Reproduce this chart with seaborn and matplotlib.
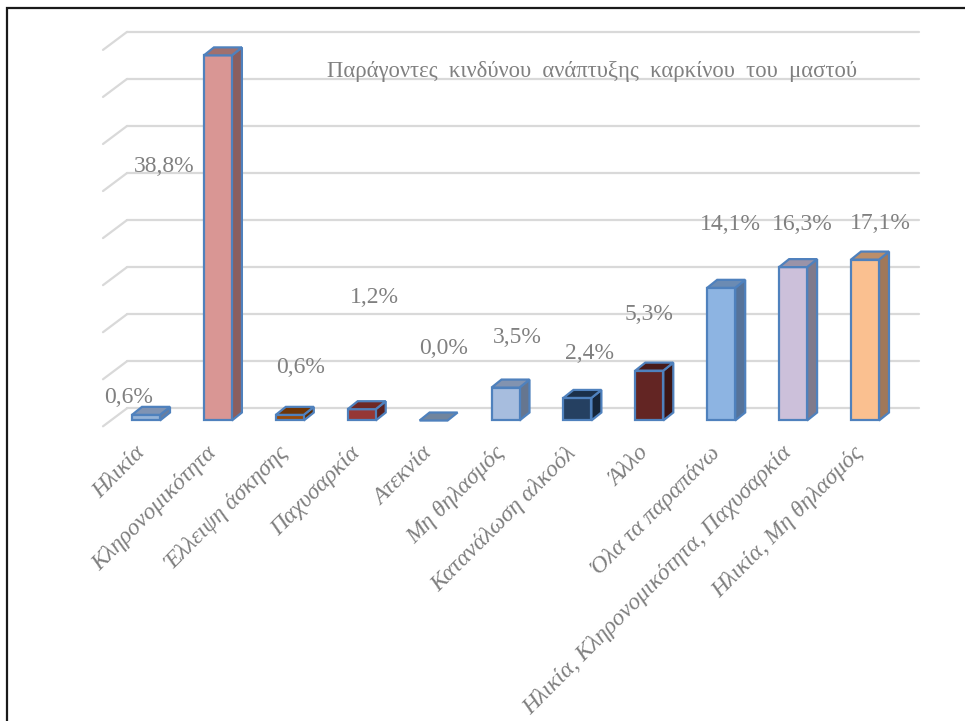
import numpy as np
import pandas as pd
import matplotlib
matplotlib.use("Agg")
import matplotlib.pyplot as plt
import seaborn as sns
from matplotlib.patches import Polygon, Rectangle

sns.set_theme(style="white")
plt.rcParams['font.family'] = ['Liberation Serif', 'DejaVu Serif']

# ---- data ----
categories = ['Ηλικία', 'Κληρονομικότητα', 'Έλλειψη άσκησης', 'Παχυσαρκία',
              'Ατεκνία', 'Μη θηλασμός', 'Κατανάλωση αλκοόλ', 'Άλλο',
              'Όλα τα παραπάνω', 'Ηλικία, Κληρονομικότητα, Παχυσαρκία',
              'Ηλικία, Μη θηλασμός']
values = [0.6, 38.8, 0.6, 1.2, 0.0, 3.5, 2.4, 5.3, 14.1, 16.3, 17.1]
value_labels = ['0,6%', '38,8%', '0,6%', '1,2%', '0,0%', '3,5%', '2,4%',
                '5,3%', '14,1%', '16,3%', '17,1%']
title = 'Παράγοντες  κινδύνου  ανάπτυξης  καρκίνου  του  μαστού'

# colours: front, top, side
front_colors = ['#95B3D7', '#D99694', '#984807', '#953735', '#8EA2BD', '#A7BDDE',
                '#254061', '#632523', '#8DB4E2', '#CCC0DA', '#FAC090']
top_colors = ['#7F93B3', '#A0706E', '#6E3506', '#6E2826', '#71859E', '#8293B0',
              '#1B304A', '#481B1A', '#6B8BB3', '#9A93A8', '#BB8E69']
side_colors = ['#6A7E9E', '#8B5E5E', '#5A2C05', '#5A2120', '#5E6F86', '#66768F',
               '#152539', '#3C1615', '#56739A', '#7F7A8C', '#A0785A']

# label placement (layout): x offset from bar centre, y in data units
label_dx = [-0.24, -0.75, 0.15, 0.18, 0.14, 0.17, 0.17, 0.0, 0.13, 0.13, 0.21]
label_y = [2.4, 27.0, 5.6, 13.1, 7.6, 8.8, 7.1, 11.3, 20.8, 20.8, 20.9]

grid_levels = np.arange(0, 45, 5)

# ---- geometry (pixel based layout) ----
W, H = 965, 721
px_per_cat = 71.9
px_per_unit = 9.41
x0_px, y0_px = 146, 420.5
ax_l, ax_r, ax_t, ax_b = 90, 930, 20, 440

fig = plt.figure(figsize=(W / 100, H / 100), dpi=100)
ax = fig.add_axes([ax_l / W, 1 - ax_b / H, (ax_r - ax_l) / W, (ax_b - ax_t) / H])

depth_x = 10 / px_per_cat
depth_y = 8 / px_per_unit
back_y = 12.2 / px_per_unit
grid_x0 = (127 - x0_px) / px_per_cat
grid_x1 = (919 - x0_px) / px_per_cat
slant_x = (103 - x0_px) / px_per_cat
slant_y = 18 / px_per_unit

# gridlines on back wall + slanted side edges
for g in grid_levels:
    yb = g + back_y
    ax.plot([grid_x0, grid_x1], [yb, yb], color='#D9D9D9', lw=1.6, zorder=0)
    ax.plot([slant_x, grid_x0], [yb - slant_y, yb], color='#D9D9D9', lw=1.6, zorder=0)

df = pd.DataFrame({'cat': categories, 'val': values})
bw = 28 / px_per_cat
sns.barplot(data=df, x='cat', y='val', hue='cat', palette=front_colors,
            width=bw, legend=False, ax=ax, edgecolor='#4F81BD', linewidth=1.6,
            saturation=1, zorder=3)

edge = '#4F81BD'
for i, v in enumerate(values):
    xl, xr = i - bw / 2, i + bw / 2
    top = Polygon([[xl, v], [xr, v], [xr + depth_x, v + depth_y], [xl + depth_x, v + depth_y]],
                  closed=True, facecolor=top_colors[i], edgecolor=edge, lw=1.6, zorder=4)
    ax.add_patch(top)
    if v > 0:
        side = Polygon([[xr, 0], [xr + depth_x, depth_y], [xr + depth_x, v + depth_y], [xr, v]],
                       closed=True, facecolor=side_colors[i], edgecolor=edge, lw=1.6, zorder=2)
        ax.add_patch(side)
    ax.text(i + label_dx[i], label_y[i], value_labels[i], ha='center', va='center',
            fontsize=17, color='#808080', zorder=5)

# seaborn resets the limits of a categorical axis, so set them afterwards
ax.set_xlim((ax_l - x0_px) / px_per_cat, (ax_r - x0_px) / px_per_cat)
ax.set_ylim((y0_px - ax_b) / px_per_unit, (y0_px - ax_t) / px_per_unit)

ax.text((592 - x0_px) / px_per_cat, (y0_px - 71) / px_per_unit, title, ha='center',
        va='center', fontsize=16.3, color='#808080')

ax.set_xlabel('')
ax.set_ylabel('')
ax.set_yticks([])
ax.set_xticks(range(len(categories)))
ax.set_xticklabels([])
ax.tick_params(length=0)
for i, c in enumerate(categories):
    ax.text(i - 0.06, (y0_px - 450) / px_per_unit, c, rotation=45, rotation_mode='anchor',
            ha='right', va='center', fontsize=17, style='italic', color='#7F7F7F',
            clip_on=False)
for s in ax.spines.values():
    s.set_visible(False)
ax.patch.set_alpha(0)

# outer frame
fig.patches.append(Rectangle((7 / W, -0.01), 1.0, 1 - 8 / H + 0.01, transform=fig.transFigure,
                             fill=False, edgecolor='#1a1a1a', lw=1.6))

fig.savefig('out.png', dpi=100)
